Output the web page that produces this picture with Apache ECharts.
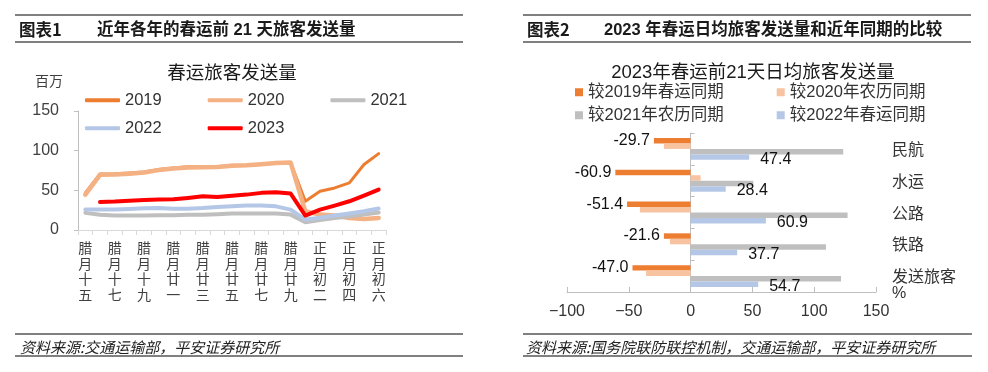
<!DOCTYPE html>
<html><head><meta charset="utf-8">
<script src="https://cdn.jsdelivr.net/npm/echarts@6/dist/echarts.min.js"></script>
<style>html,body{margin:0;padding:0;background:#fff}#c{width:988px;height:372px}</style>
</head><body><div id="c"></div>
<script>
// ---- Data: left chart (百万) ----
const days = ['腊月十五','腊月十六','腊月十七','腊月十八','腊月十九','腊月二十','腊月廿一','腊月廿二','腊月廿三','腊月廿四','腊月廿五','腊月廿六','腊月廿七','腊月廿八','腊月廿九','正月初一','正月初二','正月初三','正月初四','正月初五','正月初六'];
const y2019 = [46.8, 70.7, 70.9, 72, 73.2, 76.2, 78.3, 79.6, 79.6, 79.8, 81.6, 81.2, 82.9, 84.1, 84.6, 36.2, 48.8, 53, 59.4, 82.5, 96.3];
const y2020 = [44.5, 69.5, 70, 71, 72.5, 75.5, 77.5, 78.8, 79, 79.5, 81, 81.5, 83, 84.5, 85, 23.6, 19.4, 18.2, 15.2, 14.0, 15.2];
const y2021 = [21.6, 19.1, 18.3, 18.3, 18.3, 18.7, 18.7, 19.1, 19.1, 19.9, 20.7, 20.7, 20.7, 20.7, 19.4, 9.7, 12.5, 15, 17, 19.5, 22];
const y2022 = [25.7, 25.7, 25.7, 26.5, 27.3, 27.7, 26.9, 26.9, 27.7, 29, 29.8, 30.8, 30.8, 29.8, 25.7, 13.1, 15.5, 18.2, 20.7, 23.6, 27];
const y2023 = [null, 35.4, 35.9, 37, 37.9, 38.3, 38.7, 40.4, 42.5, 41.6, 43.3, 44.6, 46.8, 47.6, 45.9, 18.2, 25.7, 30.8, 36.2, 43.4, 51];
const leftYTicks = [0, 50, 100, 150];

// ---- Data: right chart (%) ----
const modes = ['民航', '水运', '公路', '铁路', '发送旅客%'];
const vs2019 = [-29.7, -60.9, -51.4, -21.6, -47.0];
const vs2020 = [-21.6, 8.1, -41, -16.7, -36];
const vs2021 = [123.5, 50.7, 127, 109.5, 121.7];
const vs2022 = [47.4, 28.4, 60.9, 37.7, 54.7];
const rightXTicks = [-100, -50, 0, 50, 100, 150];

const LAT = 'Liberation Sans, Arial, Noto Sans CJK SC, sans-serif';
const CJK = 'Noto Sans CJK SC, Liberation Sans, sans-serif';
const C19 = '#ED7D31', C20 = '#F4B183', C21 = '#BFBFBF', C22 = '#B4C7E7', C23 = '#FF0000';

const chart = echarts.init(document.getElementById('c'), null, {renderer: 'canvas'});

function rule(x1, x2, y) {
  return {type: 'line', shape: {x1, y1: y, x2, y2: y}, style: {stroke: '#808080', lineWidth: 2}, silent: true};
}
function txt(text, x, y, font, align, fill) {
  return {type: 'text', x, y, style: {text, font, fill: fill || '#1a1a1a', align: align || 'left', verticalAlign: 'middle'}, silent: true};
}

const lineSeries = (name, data, color, w) => ({
  name, type: 'line', data, xAxisIndex: 0, yAxisIndex: 0, symbol: 'none',
  lineStyle: {color, width: w, cap: 'round', join: 'round'}, itemStyle: {color}, connectNulls: false
});

const option = {
  animation: false,
  backgroundColor: '#fff',
  textStyle: {fontFamily: LAT},
  grid: [
    {left: 78, top: 111, width: 308, height: 119},
    {left: 567, top: 133, width: 309, height: 159}
  ],
  legend: [
    {data: ['2019', '2020', '2021'], left: 85, top: 92, padding: 0, itemGap: 46, itemWidth: 35, itemHeight: 4, icon: 'roundRect',
     textStyle: {fontSize: 16.5, color: '#333', fontFamily: LAT}},
    {data: ['2022', '2023'], left: 85, top: 120, padding: 0, itemGap: 46, itemWidth: 35, itemHeight: 4, icon: 'roundRect',
     textStyle: {fontSize: 16.5, color: '#333', fontFamily: LAT}},
    {data: ['较2019年春运同期', '较2020年农历同期'], left: 575, top: 84, padding: 0, itemGap: 53, itemWidth: 8, itemHeight: 8, icon: 'rect',
     textStyle: {fontSize: 16.5, color: '#333', fontFamily: LAT}},
    {data: ['较2021年农历同期', '较2022年春运同期'], left: 575, top: 107, padding: 0, itemGap: 53, itemWidth: 8, itemHeight: 8, icon: 'rect',
     textStyle: {fontSize: 16.5, color: '#333', fontFamily: LAT}}
  ],
  xAxis: [
    {type: 'category', gridIndex: 0, data: days, boundaryGap: true,
     axisLine: {lineStyle: {color: '#d9d9d9', width: 1}},
     axisTick: {show: true, interval: 0, length: 5, lineStyle: {color: '#d9d9d9'}},
     axisLabel: {interval: 1, formatter: v => v.split('').join('\n'), fontSize: 14, lineHeight: 15.5, color: '#404040', margin: 10, fontFamily: CJK},
     splitLine: {show: false}},
    {type: 'value', gridIndex: 1, min: rightXTicks[0], max: rightXTicks[rightXTicks.length - 1], interval: 50,
     axisLine: {show: true, onZero: false, lineStyle: {color: '#bfbfbf'}},
     axisTick: {show: true, inside: true, length: 5, lineStyle: {color: '#bfbfbf'}},
     axisLabel: {fontSize: 16, color: '#333', margin: 12, formatter: v => String(v).replace('-', '\u2212')},
     splitLine: {show: false}}
  ],
  yAxis: [
    {type: 'value', gridIndex: 0, min: leftYTicks[0], max: leftYTicks[leftYTicks.length - 1], interval: 50,
     axisLine: {show: true, lineStyle: {color: '#bfbfbf'}},
     axisTick: {show: true, length: 4, lineStyle: {color: '#bfbfbf'}},
     axisLabel: {fontSize: 16, color: '#404040', margin: 19},
     splitLine: {show: false}},
    {type: 'category', gridIndex: 1, data: modes, inverse: true, position: 'left',
     axisLine: {show: true, onZero: true, lineStyle: {color: '#bfbfbf'}},
     axisTick: {show: true, inside: true, length: 4, lineStyle: {color: '#bfbfbf'}},
     axisLabel: {show: false}, splitLine: {show: false}},
    {type: 'category', gridIndex: 1, data: modes, inverse: true, position: 'right',
     axisLine: {show: false}, axisTick: {show: false},
     axisLabel: {interval: 0, hideOverlap: false, margin: 16, fontSize: 16, color: '#333', fontFamily: CJK,
                 formatter: v => v === '发送旅客%' ? '{e| }\n{a|发送旅客}\n{b|%}' : v,
                 rich: {e: {fontSize: 16, lineHeight: 17},
                        a: {fontSize: 16, fontFamily: CJK, color: '#333', lineHeight: 17},
                        b: {fontSize: 16, fontFamily: LAT, color: '#333', lineHeight: 17}}},
     splitLine: {show: false}}
  ],
  series: [
    lineSeries('2019', y2019, C19, 3),
    lineSeries('2020', y2020, C20, 4.5),
    lineSeries('2021', y2021, C21, 4),
    lineSeries('2022', y2022, C22, 4),
    lineSeries('2023', y2023, C23, 4),
    {name: '较2019年春运同期', type: 'bar', xAxisIndex: 1, yAxisIndex: 1, data: vs2019, itemStyle: {color: C19},
     barGap: '0%', barCategoryGap: '31%',
     label: {show: true, position: 'left', distance: 4, fontSize: 16, color: '#111', fontFamily: LAT, formatter: p => p.value.toFixed(1)}},
    {name: '较2020年农历同期', type: 'bar', xAxisIndex: 1, yAxisIndex: 1, data: vs2020, itemStyle: {color: '#F8C3A0'},
     barGap: '0%', barCategoryGap: '31%'},
    {name: '较2021年农历同期', type: 'bar', xAxisIndex: 1, yAxisIndex: 1, data: vs2021, itemStyle: {color: C21},
     barGap: '0%', barCategoryGap: '31%'},
    {name: '较2022年春运同期', type: 'bar', xAxisIndex: 1, yAxisIndex: 1, data: vs2022, itemStyle: {color: C22},
     barGap: '0%', barCategoryGap: '31%',
     label: {show: true, position: 'right', distance: 11, offset: [0, 2], fontSize: 16, color: '#111', fontFamily: LAT, formatter: p => p.value.toFixed(1)}}
  ],
  graphic: [
    rule(15, 463, 15), rule(15, 463, 42), rule(523, 971, 15), rule(523, 971, 42),
    rule(15, 463, 334), rule(15, 463, 356), rule(523, 972, 334), rule(523, 972, 356),
    txt('图表1', 19, 30, 'bold 16.5px ' + CJK),
    txt('近年各年的春运前 21 天旅客发送量', 97, 30, 'bold 16.5px ' + LAT),
    txt('图表2', 527, 30, 'bold 16.5px ' + CJK),
    txt('2023 年春运日均旅客发送量和近年同期的比较', 604, 30, 'bold 16.5px ' + LAT),
    txt('春运旅客发送量', 232, 72, '18.5px ' + CJK, 'center'),
    txt('2023年春运前21天日均旅客发送量', 753, 73, '18.5px ' + LAT, 'center'),
    txt('百万', 49, 81, '14px ' + CJK, 'center', '#404040'),
    txt('资料来源:交通运输部，平安证券研究所', 20, 347, 'italic 15px ' + CJK, 'left', '#222'),
    txt('资料来源:国务院联防联控机制，交通运输部，平安证券研究所', 526, 347, 'italic 15px ' + CJK, 'left', '#222')
  ]
};
chart.setOption(option);
</script></body></html>
